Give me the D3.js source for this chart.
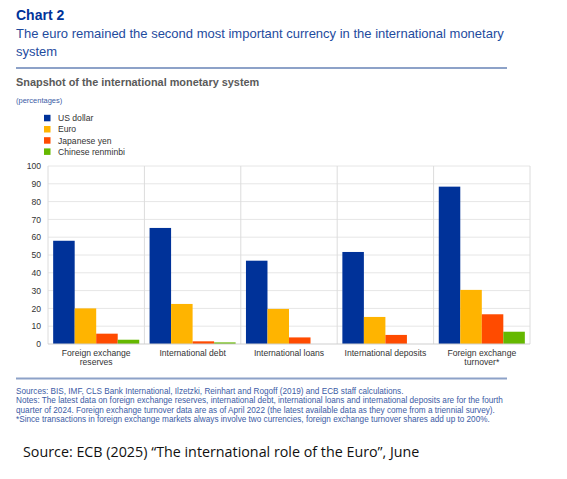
<!DOCTYPE html>
<html>
<head>
<meta charset="utf-8">
<script src="https://cdn.jsdelivr.net/npm/d3@7"></script>
<style>
  body { margin: 0; background: #fff; }
  svg { display: block; font-family: "Liberation Sans", Arial, sans-serif; }
</style>
</head>
<body>
<div id="chart"></div>
<script>
// data
let categories = [['Foreign exchange', 'reserves'], ['International debt'], ['International loans'],
                  ['International deposits'], ['Foreign exchange', 'turnover*']];
let currencies = ['US dollar', 'Euro', 'Japanese yen', 'Chinese renminbi'];
let usd = [58, 65.2, 46.8, 51.7, 88.4];
let eur = [20, 22.5, 19.7, 15.2, 30.4];
let jpy = [5.8, 1.5, 3.7, 5.1, 16.7];
let cny = [2.4, 0.9, 0, 0, 6.9];
let y_ticks = [0, 10, 20, 30, 40, 50, 60, 70, 80, 90, 100];
let colors = ['#003299', '#ffb400', '#ff4b00', '#65b800'];

let width = 567;
let height = 479;
let series = [usd, eur, jpy, cny];

let svg = d3.select('#chart').append('svg')
            .attr('width', width)
            .attr('height', height);

// header
svg.append('text')
    .attr('x', 16).attr('y', 20)
    .attr('font-size', 14).attr('font-weight', 'bold')
    .attr('fill', '#003299')
    .text('Chart 2');
svg.append('text')
    .attr('x', 16).attr('y', 38)
    .attr('font-size', 13).attr('fill', '#1e4b9e')
    .text('The euro remained the second most important currency in the international monetary');
svg.append('text')
    .attr('x', 16).attr('y', 56)
    .attr('font-size', 13).attr('fill', '#1e4b9e')
    .text('system');
svg.append('line')
    .attr('x1', 16).attr('x2', 507).attr('y1', 68).attr('y2', 68)
    .attr('stroke', '#8da2c8').attr('stroke-width', 2);
svg.append('text')
    .attr('x', 16).attr('y', 86)
    .attr('font-size', 10.9).attr('font-weight', 'bold')
    .attr('fill', '#5a5a5a')
    .text('Snapshot of the international monetary system');
svg.append('text')
    .attr('x', 16).attr('y', 103)
    .attr('font-size', 7.5).attr('fill', '#3b5ba5')
    .text('(percentages)');

// legend
let legend = svg.append('g')
                .selectAll('g')
                .data(currencies)
                .join('g')
                    .attr('transform', (d, i) => `translate(44,${118 + i * 11.2})`);
legend.append('rect')
    .attr('x', 0).attr('y', -3.2)
    .attr('width', 6.5).attr('height', 6.5)
    .attr('fill', (d, i) => colors[i]);
legend.append('text')
    .attr('x', 14).attr('y', 3.2)
    .attr('font-size', 8.6).attr('fill', '#333')
    .text(d => d);

// plot
let x0 = d3.scaleBand()
            .domain(d3.range(categories.length))
            .range([48, 530]);
let x1 = d3.scaleBand()
            .domain(d3.range(currencies.length))
            .range([0, x0.bandwidth()])
            .paddingOuter(0.24);
let y = d3.scaleLinear()
            .domain([0, 100])
            .range([344, 166]);

let grid = svg.append('g');
grid.selectAll('line.h')
    .data(y_ticks.slice(1))
    .join('line')
        .attr('class', 'h')
        .attr('x1', x0.range()[0]).attr('x2', x0.range()[1])
        .attr('y1', d => y(d)).attr('y2', d => y(d))
        .attr('stroke', '#e6e6e6').attr('stroke-width', 1);
grid.selectAll('line.v')
    .data(d3.range(categories.length + 1))
    .join('line')
        .attr('class', 'v')
        .attr('x1', d => x0.range()[0] + d * x0.step())
        .attr('x2', d => x0.range()[0] + d * x0.step())
        .attr('y1', y(100)).attr('y2', y(0))
        .attr('stroke', '#dcdcdc').attr('stroke-width', 1);

let yAxis = svg.append('g')
                .attr('transform', 'translate(41,0)')
                .call(d3.axisLeft(y).tickValues(y_ticks).tickSize(0).tickPadding(0));
yAxis.select('.domain').remove();
yAxis.selectAll('text')
    .attr('font-size', 8.6).attr('fill', '#333')
    .attr('font-family', '"Liberation Sans", Arial, sans-serif');

let groups = svg.append('g')
                .selectAll('g')
                .data(categories)
                .join('g')
                    .attr('transform', (d, i) => `translate(${x0(i)},0)`);
groups.selectAll('rect')
    .data((d, i) => series.map((s, j) => ({j: j, v: s[i]})))
    .join('rect')
        .attr('x', d => x1(d.j))
        .attr('width', x1.bandwidth())
        .attr('y', d => y(d.v))
        .attr('height', d => y(0) - y(d.v))
        .attr('fill', d => colors[d.j]);

svg.append('line')
    .attr('x1', x0.range()[0]).attr('x2', x0.range()[1])
    .attr('y1', y(0)).attr('y2', y(0))
    .attr('stroke', '#cfcfcf').attr('stroke-width', 1);

groups.selectAll('text')
    .data(d => d)
    .join('text')
        .attr('x', x0.bandwidth() / 2)
        .attr('y', (d, i) => 356 + i * 9.4)
        .attr('text-anchor', 'middle')
        .attr('font-size', 8.6).attr('fill', '#333')
        .text(d => d);

// footer
svg.append('line')
    .attr('x1', 16).attr('x2', 507).attr('y1', 378.5).attr('y2', 378.5)
    .attr('stroke', '#8da2c8').attr('stroke-width', 2);
let notes = [
    'Sources: BIS, IMF, CLS Bank International, Ilzetzki, Reinhart and Rogoff (2019) and ECB staff calculations.',
    'Notes: The latest data on foreign exchange reserves, international debt, international loans and international deposits are for the fourth',
    'quarter of 2024. Foreign exchange turnover data are as of April 2022 (the latest available data as they come from a triennial survey).',
    '*Since transactions in foreign exchange markets always involve two currencies, foreign exchange turnover shares add up to 200%.'
];
svg.append('g')
    .selectAll('text')
    .data(notes)
    .join('text')
        .attr('x', 16)
        .attr('y', (d, i) => 394 + i * 9.4)
        .attr('font-size', 8.2).attr('fill', '#3b5ba5')
        .text(d => d);

svg.append('text')
    .attr('x', 23).attr('y', 457)
    .attr('font-size', 14.3).attr('fill', '#111')
    .attr('font-family', '"Open Sans", "Noto Sans", sans-serif')
    .text('Source: ECB (2025) \u201cThe international role of the Euro\u201d, June');
</script>
</body>
</html>
